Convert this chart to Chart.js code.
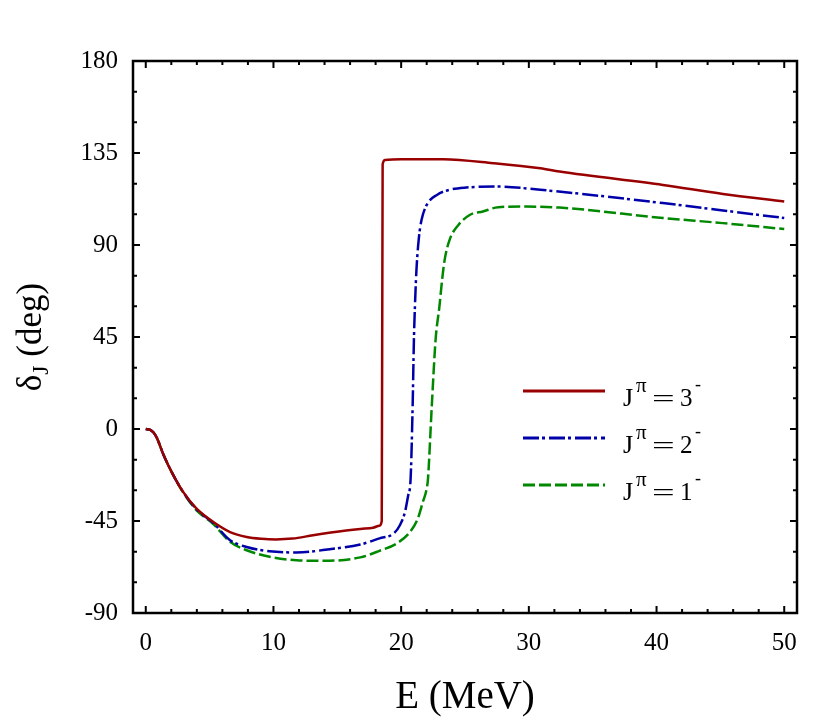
<!DOCTYPE html>
<html>
<head>
<meta charset="utf-8">
<script src="https://cdn.jsdelivr.net/npm/chart.js@4.4.1/dist/chart.umd.min.js"></script>
<style>
  html, body { margin: 0; padding: 0; background: #fff; }
  canvas { display: block; }
</style>
</head>
<body>
<canvas id="phase" width="830" height="721"></canvas>
<script>
// phase shifts: E in MeV, delta in degrees
var energy3 = [0, 0.35, 0.59, 0.85, 1.37, 2.03, 2.94, 3.98, 5.29, 6.6, 7.9, 9.07, 10.2, 11.5, 13.1, 15.7, 16.8, 17.8, 18.3, 18.48, 18.55, 18.75, 20.0, 23.3, 27.2, 30.9, 32.4, 40.5, 45.2, 50.0]
var delta3 = [0, -0.4, -1.6, -4.1, -12.3, -21.1, -30.9, -39, -45.5, -50.4, -52.8, -53.7, -54.0, -53.6, -52, -49.7, -48.9, -48.3, -47.3, -45.0, 129.5, 131.6, 132, 131.9, 130, 127.5, 125.9, 119.4, 115.0, 111.3]

var energy2 = [0, 0.35, 0.59, 0.85, 1.37, 2.03, 2.94, 3.98, 5.29, 6.6, 7.9, 9.7, 11.8, 14.4, 16.8, 18.3, 19.4, 19.9, 20.3, 20.55, 20.74, 20.9, 21.0, 21.08, 21.2, 21.4, 21.6, 22.0, 22.8, 23.8, 25.1, 27.5, 30.9, 40.5, 45.2, 50.0]
var delta2 = [0, -0.4, -1.6, -4.1, -12.3, -21.1, -30.9, -39.3, -46, -54.4, -57.7, -59.8, -60.4, -58.8, -56.5, -53.5, -51.2, -47.1, -40.6, -32.5, -24.4, 11.4, 43.9, 60.1, 78, 94.2, 102.3, 109.6, 114.5, 117.0, 118.1, 118.6, 117.0, 110.5, 106.9, 103.2]

var energy1 = [0, 0.35, 0.59, 0.85, 1.37, 2.03, 2.94, 3.98, 5.29, 6.6, 7.9, 9.7, 11.8, 13.9, 16.8, 18.3, 19.65, 20.7, 21.3, 21.7, 22.0, 22.1, 22.4, 22.7, 23.0, 23.2, 23.4, 23.8, 24.5, 25.4, 26.4, 27.6, 29.8, 32.4, 40.5, 45.2, 50.0]
var delta1 = [0, -0.4, -1.6, -4.1, -12.3, -21.1, -31.2, -39.8, -46.5, -55.2, -59.3, -62.5, -64.2, -64.5, -62.8, -59.6, -56.0, -50.3, -43.9, -35.7, -29.2, -24.4, 11.4, 43.9, 60.1, 72.5, 82.5, 92.6, 99.9, 104.8, 106.4, 108.5, 108.8, 108.3, 103.2, 100.7, 97.8]

var spins = ["3", "2", "1"]
var xTickValues = [0, 10, 20, 30, 40, 50]
var yTickValues = [-90, -45, 0, 45, 90, 135, 180]
var yTickLabels = ["-90", "-45", "0", "45", "90", "135", "180"]

var serif = '"Liberation Serif", "Times New Roman", serif'

function points(xs, ys) {
  return xs.map(function(x, i) { return {x: x, y: ys[i]} })
}

// frame round the plot, with ticks pointing inwards on all four sides
var frameTicks = {
  id: 'frameTicks',
  afterDatasetsDraw: function(chart) {
    var ctx = chart.ctx, a = chart.chartArea
    var xs = chart.scales.x, ys = chart.scales.y
    ctx.save()
    ctx.strokeStyle = '#000'
    ctx.lineWidth = 2
    ctx.beginPath()
    for (var v = 0; v <= 50; v += 2) {
      var px = xs.getPixelForValue(v)
      var len = v % 10 === 0 ? 7 : 4
      ctx.moveTo(px, a.bottom); ctx.lineTo(px, a.bottom - len)
      ctx.moveTo(px, a.top); ctx.lineTo(px, a.top + len)
    }
    for (var w = -90; w <= 180; w += 15) {
      var py = ys.getPixelForValue(w)
      var l2 = w % 45 === 0 ? 7 : 4
      ctx.moveTo(a.left, py); ctx.lineTo(a.left + l2, py)
      ctx.moveTo(a.right, py); ctx.lineTo(a.right - l2, py)
    }
    ctx.stroke()
    ctx.lineWidth = 2.5
    ctx.strokeRect(a.left, a.top, a.right - a.left, a.bottom - a.top)
    ctx.restore()
  }
}

// legend inside the plot, needs superscripts so it is drawn by hand
var spinLegend = {
  id: 'spinLegend',
  afterDraw: function(chart) {
    var ctx = chart.ctx, a = chart.chartArea
    ctx.save()
    chart.data.datasets.forEach(function(ds, i) {
      var rowY = a.top + 330 + i * 47
      ctx.strokeStyle = ds.borderColor
      ctx.lineWidth = 3
      ctx.setLineDash(ds.borderDash || [])
      ctx.beginPath()
      ctx.moveTo(a.left + 390, rowY)
      ctx.lineTo(a.left + 472, rowY)
      ctx.stroke()
      ctx.setLineDash([])

      var base = rowY + 15
      var x0 = a.left + 490
      ctx.fillStyle = '#000'
      ctx.textBaseline = 'alphabetic'
      ctx.textAlign = 'left'
      ctx.font = '26px ' + serif
      ctx.fillText('J', x0, base)
      ctx.font = '21px ' + serif
      ctx.fillText('\u03c0', x0 + 13, base - 14)
      // the equals sign is drawn wide, as in the original
      ctx.save()
      ctx.translate(x0 + 29, base)
      ctx.scale(1.75, 1)
      ctx.font = '23px ' + serif
      ctx.fillText('=', 0, 0)
      ctx.restore()
      ctx.font = '25px ' + serif
      ctx.fillText(spins[i], x0 + 57, base)
      ctx.font = '18px ' + serif
      ctx.fillText('-', x0 + 72, base - 16)
    })
    ctx.restore()
  }
}

// y axis title with subscript J
var yTitle = {
  id: 'yTitle',
  afterDraw: function(chart) {
    var ctx = chart.ctx
    ctx.save()
    ctx.translate(41, 337)
    ctx.rotate(-Math.PI / 2)
    ctx.fillStyle = '#000'
    ctx.textBaseline = 'alphabetic'
    ctx.textAlign = 'left'
    var big = '35px ' + serif, small = '24px ' + serif
    ctx.font = big
    var w1 = ctx.measureText('\u03b4').width
    var w3 = ctx.measureText(' (deg)').width
    ctx.font = small
    var w2 = ctx.measureText('J').width
    var x0 = -(w1 + w2 + w3) / 2
    ctx.font = big
    ctx.fillText('\u03b4', x0, 0)
    ctx.font = small
    ctx.fillText('J', x0 + w1, 7)
    ctx.font = big
    ctx.fillText(' (deg)', x0 + w1 + w2, 0)
    ctx.restore()
  }
}

new Chart(document.getElementById('phase'), {
  type: 'line',
  data: {
    datasets: [
      {
        label: 'J\u03c0 = 3-',
        data: points(energy3, delta3),
        borderColor: '#990000',
        borderWidth: 2.5,
        pointRadius: 0,
        fill: false,
        cubicInterpolationMode: 'monotone',
      },
      {
        label: 'J\u03c0 = 2-',
        data: points(energy2, delta2),
        borderColor: '#0000aa',
        borderWidth: 2.5,
        borderDash: [16, 3, 3, 4],
        pointRadius: 0,
        fill: false,
        cubicInterpolationMode: 'monotone',
      },
      {
        label: 'J\u03c0 = 1-',
        data: points(energy1, delta1),
        borderColor: '#008800',
        borderWidth: 2.5,
        borderDash: [12, 4],
        pointRadius: 0,
        fill: false,
        cubicInterpolationMode: 'monotone',
      },
    ],
  },
  options: {
    responsive: false,
    animation: false,
    devicePixelRatio: 1,
    layout: { padding: { left: 0, top: 61, right: 33, bottom: 0 } },
    plugins: {
      legend: { display: false },
      tooltip: { enabled: false },
    },
    scales: {
      x: {
        type: 'linear',
        min: -1,
        max: 51,
        grid: { display: false, drawTicks: false },
        border: { display: false },
        afterBuildTicks: function(scale) {
          scale.ticks = xTickValues.map(function(v) { return {value: v} })
        },
        afterFit: function(scale) { scale.height = 108 },
        ticks: {
          padding: 15,
          color: '#000',
          maxRotation: 0,
          font: { family: serif, size: 25 },
          callback: function(v) { return String(v) },
        },
        title: {
          display: true,
          text: 'E (MeV)',
          color: '#000',
          padding: { top: 0, bottom: 0 },
          font: { family: serif, size: 39 },
        },
      },
      y: {
        type: 'linear',
        min: -90,
        max: 180,
        grid: { display: false, drawTicks: false },
        border: { display: false },
        afterBuildTicks: function(scale) {
          scale.ticks = yTickValues.map(function(v) { return {value: v} })
        },
        afterFit: function(scale) { scale.width = 133 },
        ticks: {
          padding: 15,
          color: '#000',
          font: { family: serif, size: 25 },
          callback: function(v) { return yTickLabels[yTickValues.indexOf(v)] },
        },
      },
    },
  },
  plugins: [frameTicks, spinLegend, yTitle],
})
</script>
</body>
</html>
